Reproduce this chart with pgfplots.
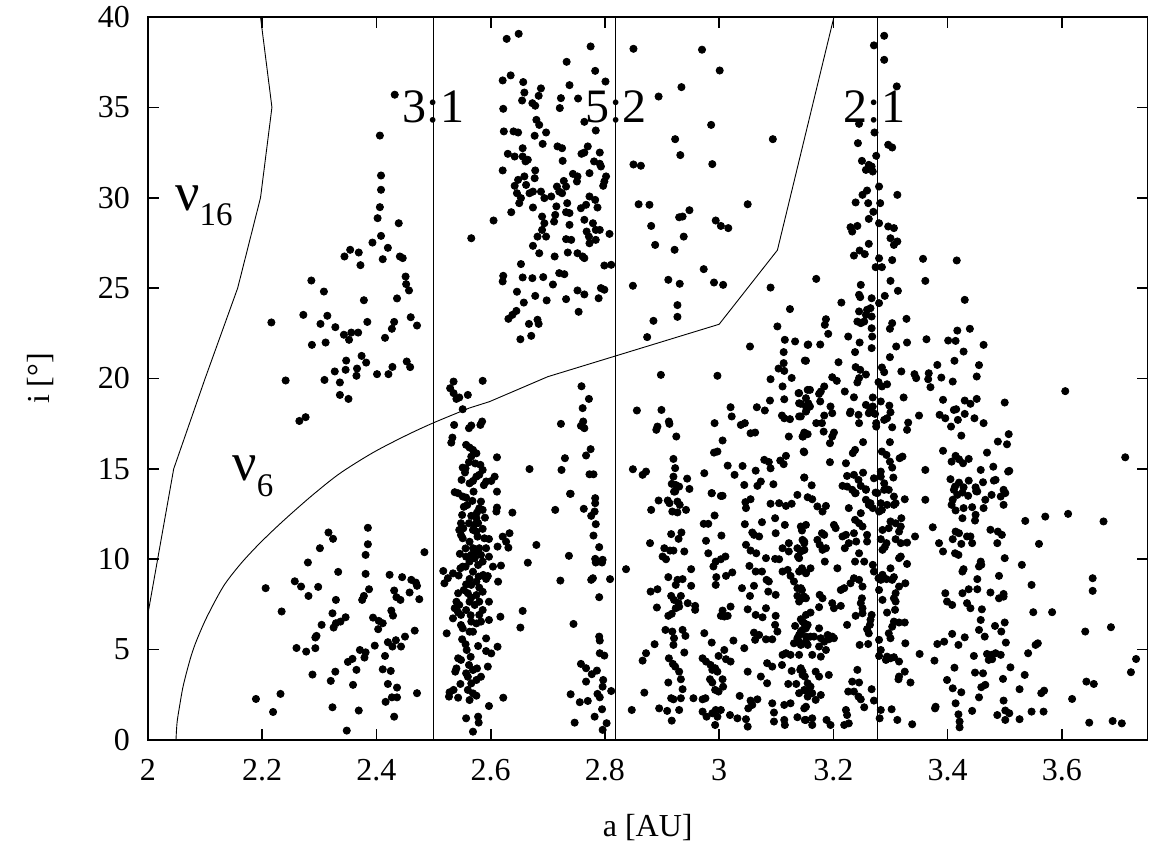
\documentclass[border=0pt]{standalone}
\usepackage{pgfplots}
\pgfplotsset{compat=1.18}
\usepackage{fontspec}
\setmainfont{Liberation Serif}
\begin{document}
\begin{tikzpicture}
\begin{axis}[name=ax, scale only axis, width=499.75pt, height=361.5pt,
 xmin=2, xmax=3.75, ymin=0, ymax=40,
 xtick={2,2.2,2.4,2.6,2.8,3,3.2,3.4,3.6}, ytick={0,5,10,15,20,25,30,35,40},
 minor tick num=0, tick align=inside, tick pos=both, major tick length=5.3pt,
 axis line style={line width=0.85pt}, tick style={black, line width=0.85pt},
 /pgf/number format/assume math mode=true,
 ticklabel style={font=\fontsize{16}{16}\selectfont},
 xticklabel style={yshift=-6pt}, yticklabel style={xshift=-5.5pt},
 xlabel={a [AU]}, ylabel={i [°]}, label style={font=\fontsize{16}{16}\selectfont},
 xlabel style={at={(axis description cs:0.5,-0.1217)}, anchor=center},
 ylabel style={at={(axis description cs:-0.108,0.5)}, anchor=center},
 clip=false]
% nu16 secular resonance
\addplot[black, line width=0.45pt, mark=none] coordinates {(2.0,7)(2.045,15)(2.1,20)(2.157,25)(2.197,30)(2.217,35)(2.197,40)};
% nu6 secular resonance
\addplot[black, line width=0.45pt, mark=none, smooth] coordinates {(2.049,0)(2.051,1.0)(2.056,2.0)(2.061,2.9)(2.068,3.8)(2.076,4.7)(2.085,5.5)(2.103,6.8)(2.132,8.5)(2.161,9.7)(2.19,10.7)(2.219,11.6)(2.25,12.5)(2.29,13.6)(2.336,14.75)(2.394,15.9)(2.452,16.85)(2.5,17.55)(2.563,18.37)};
\addplot[black, line width=0.45pt, mark=none] coordinates {(2.563,18.37)(2.598,18.72)(2.70,20.1)(2.819,21.25)(3.0,23.0)(3.102,27.1)(3.201,40)};
% mean motion resonances
\addplot[black, line width=0.45pt, mark=none] coordinates {(2.5,0)(2.5,40)};
\addplot[black, line width=0.45pt, mark=none] coordinates {(2.819,0)(2.819,40)};
\addplot[black, line width=0.45pt, mark=none] coordinates {(3.277,0)(3.277,40)};
% asteroids
\addplot[only marks, mark=*, mark size=1.8pt, black] coordinates {
(2.432,35.70)(2.406,33.44)(2.408,31.23)(2.408,30.44)(2.406,29.48)(2.402,28.87)(2.439,28.59)(2.408,27.89)(2.393,27.52)(2.354,27.12)(2.369,26.97)(2.420,27.23)(2.344,26.75)(2.411,26.60)(2.441,26.75)(2.446,26.66)(2.566,27.76)
(2.372,26.27)(2.286,25.42)(2.308,24.81)(2.451,25.64)(2.452,25.22)(2.457,24.87)(2.378,24.33)(2.436,24.43)(2.216,23.10)(2.272,23.52)(2.314,23.47)(2.302,23.02)(2.328,22.84)(2.384,23.13)(2.431,23.13)(2.460,23.39)(2.471,22.93)(2.427,22.75)(2.343,22.42)(2.356,22.54)(2.368,22.54)(2.352,22.14)(2.415,22.25)(2.287,21.86)(2.311,21.99)(2.374,21.25)(2.347,20.99)(2.382,20.88)(2.327,20.39)(2.346,20.48)(2.366,20.55)(2.365,20.15)(2.401,20.24)(2.421,20.24)(2.428,20.64)(2.453,20.94)(2.459,20.63)(2.241,19.89)(2.309,19.92)(2.336,19.78)(2.336,19.09)(2.351,18.87)(2.265,17.65)(2.276,17.86)
(2.385,11.74)(2.316,11.48)(2.324,11.13)(2.385,10.83)(2.301,10.61)(2.381,10.24)(2.484,10.39)(2.280,9.82)(2.333,9.30)(2.381,9.19)(2.423,9.14)(2.445,9.01)(2.461,8.86)(2.469,8.71)(2.471,8.53)(2.206,8.40)(2.257,8.78)(2.268,8.49)(2.298,8.47)(2.281,7.97)(2.387,8.34)(2.378,7.97)(2.375,7.75)(2.431,8.27)(2.435,7.90)(2.442,7.75)(2.458,8.16)(2.475,7.79)(2.329,7.75)(2.234,7.11)(2.323,7.01)(2.426,7.16)(2.429,6.88)(2.346,6.79)(2.337,6.55)(2.329,6.46)(2.325,6.22)(2.394,6.77)(2.404,6.59)(2.411,6.46)(2.304,6.37)(2.403,6.13)(2.467,6.05)(2.295,5.76)(2.293,5.67)(2.450,5.72)(2.420,5.41)(2.434,5.52)(2.443,5.17)(2.428,5.17)(2.397,5.22)(2.260,5.09)(2.277,4.89)(2.293,5.08)(2.371,4.98)(2.381,4.85)(2.379,4.56)(2.358,4.49)(2.350,4.32)(2.415,4.65)(2.365,3.88)(2.411,3.91)(2.425,3.82)(2.288,3.62)(2.328,3.78)(2.320,3.27)(2.359,3.05)(2.420,3.10)(2.436,2.90)(2.189,2.27)(2.232,2.55)(2.471,2.59)(2.427,2.36)(2.436,2.36)(2.416,2.11)(2.323,1.81)(2.369,1.63)(2.219,1.55)(2.431,1.29)(2.348,0.52)
(2.535,19.83)(2.586,19.87)(2.529,19.46)(2.535,19.19)(2.540,18.87)(2.545,18.95)(2.560,19.09)(2.551,18.30)(2.536,17.43)(2.562,17.25)(2.566,17.40)(2.585,17.62)(2.582,17.43)(2.533,16.73)(2.531,16.45)(2.557,16.33)(2.563,16.18)(2.569,16.05)(2.575,15.86)(2.611,15.64)(2.566,15.68)(2.562,15.37)(2.551,15.07)(2.556,15.03)(2.582,15.22)(2.586,14.94)(2.580,14.67)(2.575,14.57)(2.569,14.33)(2.563,14.20)(2.549,14.39)(2.607,14.57)(2.601,14.33)(2.592,14.30)(2.668,14.99)(2.537,13.71)(2.543,13.65)(2.551,13.47)(2.557,13.41)(2.568,13.23)(2.570,13.74)(2.611,13.74)(2.583,13.19)(2.580,12.82)(2.576,12.58)(2.575,12.27)(2.586,12.73)(2.611,12.86)(2.610,12.64)(2.638,12.58)(2.550,12.45)(2.548,11.99)(2.552,11.71)(2.545,11.62)(2.548,11.34)(2.551,11.16)(2.562,11.99)(2.569,11.62)(2.575,11.53)(2.577,11.25)(2.586,11.68)(2.589,11.16)(2.597,11.12)(2.621,11.25)(2.633,11.44)(2.627,10.97)(2.631,10.64)(2.612,10.70)(2.680,10.79)(2.563,10.97)(2.569,10.61)(2.575,10.42)(2.566,10.24)(2.572,10.05)(2.580,10.61)(2.583,10.24)(2.592,10.61)(2.597,10.14)(2.586,9.87)(2.578,9.68)(2.563,9.87)(2.557,10.14)(2.551,9.59)(2.604,9.59)(2.618,9.65)(2.665,9.81)(2.517,9.35)(2.534,9.22)(2.525,8.95)(2.519,8.67)(2.547,9.50)(2.556,9.59)(2.569,9.31)(2.579,9.04)(2.587,9.13)(2.595,9.07)(2.563,8.91)(2.557,8.61)(2.566,8.58)(2.575,8.76)(2.580,8.43)(2.592,8.91)(2.613,8.76)(2.543,8.12)(2.540,7.65)(2.545,7.47)(2.537,7.29)(2.543,7.06)(2.548,6.92)(2.534,6.73)(2.560,8.12)(2.566,7.88)(2.575,8.02)(2.580,7.65)(2.563,7.65)(2.572,7.47)(2.557,7.19)(2.586,7.19)(2.580,6.92)(2.566,6.55)(2.575,6.45)(2.583,6.55)(2.551,6.18)(2.548,6.36)(2.569,5.99)(2.563,5.99)(2.597,7.65)(2.597,6.64)(2.617,6.82)(2.656,7.14)(2.652,6.22)(2.523,5.90)(2.550,5.57)(2.592,5.62)(2.558,4.98)(2.592,4.92)(2.601,4.79)(2.612,5.16)(2.543,4.52)(2.548,4.43)(2.540,3.96)(2.538,3.78)(2.562,4.15)(2.569,3.87)(2.576,3.96)(2.557,3.69)(2.560,3.50)(2.595,4.06)(2.575,3.32)(2.566,3.13)(2.560,2.77)(2.569,2.58)(2.575,2.45)(2.528,2.64)(2.535,2.77)(2.527,2.40)(2.543,2.34)(2.563,2.21)(2.622,2.34)(2.597,1.88)(2.557,1.20)(2.578,1.29)(2.579,0.96)(2.569,0.46)
(2.553,12.9)(2.566,12.4)(2.559,13.0)(2.571,11.9)(2.556,10.6)(2.546,10.3)(2.578,12.0)(2.544,9.1)(2.553,8.3)(2.586,8.2)(2.556,5.3)(2.565,4.6)(2.578,5.2)(2.547,3.1)(2.583,3.5)(2.588,14.1)(2.555,14.8)(2.573,15.3)(2.59,12.3)(2.565,6.9)
(2.628,38.79)(2.649,39.07)(2.775,38.37)(2.850,38.24)(2.970,38.19)(2.733,37.52)(2.783,37.02)(3.001,37.04)(2.621,36.49)(2.635,36.77)(2.657,36.40)(2.801,36.43)(2.738,36.23)(2.659,35.82)(2.655,35.38)(2.688,36.05)(2.684,35.64)(2.673,35.23)(2.678,35.09)(2.723,35.51)(2.721,34.96)(2.753,35.49)(2.622,34.92)(2.894,35.60)(2.934,36.12)(2.764,34.20)(2.680,34.31)(2.685,34.03)(2.697,33.61)(2.784,33.72)(2.986,34.03)(2.623,33.67)(2.640,33.67)(2.648,33.61)(2.677,33.43)(2.691,32.98)(2.923,33.24)(3.094,33.24)(2.630,32.43)(2.642,32.28)(2.656,32.74)(2.656,32.28)(2.661,32.01)(2.665,32.10)(2.717,32.84)(2.725,32.74)(2.726,32.04)(2.770,32.84)(2.764,32.50)(2.759,32.43)(2.791,32.50)(2.781,32.01)(2.791,31.88)(2.793,31.73)(2.932,32.36)(2.850,31.84)(2.863,31.77)(2.988,31.86)(2.621,31.51)(2.678,31.51)(2.677,31.08)(2.773,31.36)(2.744,31.32)(2.752,31.18)(2.751,30.90)(2.802,31.18)(2.799,30.90)(2.797,30.66)(2.648,30.99)(2.642,30.66)(2.659,31.18)(2.662,30.71)(2.728,30.93)(2.732,30.62)(2.716,30.62)(2.720,30.34)(2.646,30.25)(2.653,29.98)(2.650,29.70)(2.668,30.25)(2.674,30.34)(2.688,30.34)(2.694,29.98)(2.706,30.07)(2.725,30.25)(2.773,30.07)(2.783,29.88)(2.767,29.61)(2.758,29.42)(2.674,29.46)(2.636,29.20)(2.605,28.74)(2.715,29.52)(2.734,29.70)(2.732,29.20)(2.738,29.15)(2.787,29.46)(2.859,29.64)(2.878,29.61)(2.948,29.31)(2.930,28.92)(2.936,28.96)(3.050,29.64)(2.690,28.96)(2.694,28.59)(2.690,28.22)(2.697,27.85)(2.682,27.85)(2.713,29.05)(2.711,28.68)(2.738,28.50)(2.764,28.78)(2.768,28.13)(2.772,27.85)(2.779,28.59)(2.784,28.22)(2.791,28.22)(2.784,27.67)(2.773,27.48)(2.808,28.00)(2.732,27.71)(2.741,27.67)(2.881,28.44)(2.938,27.85)(2.888,27.39)(2.922,27.12)(2.994,28.74)(3.003,28.44)(3.016,28.32)(2.674,27.34)(2.685,26.93)(2.712,26.75)(2.735,26.97)(2.752,26.93)(2.761,26.75)(2.764,26.66)
(2.653,26.33)(2.622,25.68)(2.621,25.37)(2.656,25.59)(2.673,25.55)(2.692,25.61)(2.720,25.83)(2.729,25.77)(2.709,25.20)(2.799,26.25)(2.811,26.29)(2.646,24.80)(2.678,24.57)(2.698,24.32)(2.752,24.87)(2.764,24.65)(2.793,25.00)(2.799,24.91)(2.789,24.44)(2.732,24.39)(2.658,24.20)(2.645,23.74)(2.638,23.52)(2.631,23.30)(2.754,23.69)(2.667,23.02)(2.682,23.25)(2.684,23.02)(2.652,22.17)(2.671,22.36)(2.849,25.13)(2.911,25.46)(2.931,25.24)(2.973,26.05)(2.991,25.31)(3.007,25.18)(2.927,24.06)(2.927,23.41)(2.885,23.19)(2.874,22.29)(3.090,25.03)(3.124,23.84)(3.102,22.88)(3.115,22.14)(3.133,22.05)(3.155,21.86)(3.054,21.77)(3.113,21.46)(3.113,20.85)(3.104,20.55)(3.114,20.42)(3.127,20.03)(3.150,20.99)(3.090,19.96)(3.111,19.56)(3.139,19.19)(3.114,18.85)(3.140,18.63)(3.155,19.37)(2.898,20.20)(2.997,20.15)(2.759,19.57)(2.772,18.87)(2.761,18.36)(2.762,17.62)(2.758,17.38)(2.764,17.25)(2.723,17.49)(2.775,16.09)(2.767,15.74)(2.730,15.59)(2.724,14.94)(2.773,14.70)(2.780,14.70)(2.740,13.62)(2.856,18.23)(2.899,18.26)(2.892,17.34)(2.890,17.16)(2.912,17.62)(2.913,17.49)(2.925,16.79)(2.992,17.53)(3.020,18.41)(3.022,17.90)(3.038,17.43)(3.045,17.53)(3.055,16.97)(3.063,17.01)(3.066,18.41)(3.080,18.23)(3.089,18.78)(3.110,17.95)(3.114,17.80)(3.124,17.75)(3.140,17.90)(3.152,18.91)(3.152,18.17)(3.122,16.79)(3.146,16.79)(3.149,17.01)(3.006,16.57)(2.991,15.90)(2.997,15.96)(2.920,15.55)(2.923,15.04)(2.920,14.57)(2.917,14.17)(2.924,14.11)(2.930,14.02)(2.921,13.74)(2.849,14.98)(2.866,14.67)(2.872,14.85)(2.944,14.46)(2.948,13.89)(2.974,14.76)(3.015,15.18)(3.041,15.16)(3.027,14.67)(3.064,14.90)(3.079,15.50)(3.087,15.38)(3.090,15.03)(3.107,15.46)(3.113,15.26)(3.117,15.72)(3.044,14.11)(3.067,14.06)(3.073,14.30)(3.095,14.15)(3.148,15.96)(3.149,14.52)(2.987,13.65)(3.003,13.50)
(3.289,38.96)(3.271,38.43)(3.289,37.63)(3.311,36.16)(3.245,34.09)(3.272,33.61)(3.243,33.02)(3.296,32.93)(3.303,32.78)(3.275,32.32)(3.250,32.04)(3.262,31.82)(3.267,31.73)(3.257,31.54)(3.269,31.45)(3.280,30.62)(3.259,30.40)(3.251,30.16)(3.239,29.74)(3.261,29.70)(3.282,29.70)(3.312,30.16)(3.270,29.22)(3.262,28.83)(3.280,28.59)(3.230,28.37)(3.242,28.44)(3.233,28.13)(3.296,28.41)(3.306,28.32)(3.300,27.76)(3.312,27.58)(3.306,27.39)(3.262,27.45)(3.246,27.08)(3.255,26.88)(3.236,26.80)(3.357,26.62)(3.416,26.53)(3.280,26.65)(3.303,26.55)
(3.170,25.51)(3.248,25.18)(3.300,25.40)(3.361,25.40)(3.274,26.16)(3.285,26.16)(3.313,24.85)(3.245,24.63)(3.247,24.50)(3.290,24.57)(3.214,24.20)(3.267,24.44)(3.280,24.17)(3.430,24.35)(3.265,23.89)(3.259,23.80)(3.245,23.71)(3.257,23.52)(3.267,23.43)(3.242,23.15)(3.248,23.06)(3.254,23.15)(3.267,22.78)(3.268,22.32)(3.187,23.28)(3.185,22.97)(3.303,23.06)(3.299,22.75)(3.328,23.30)(3.417,22.65)(3.439,22.75)(3.191,22.47)(3.226,22.32)(3.246,21.99)(3.267,21.68)(3.329,21.99)(3.363,22.17)(3.401,22.10)(3.414,22.08)(3.463,21.86)(3.156,21.88)(3.177,21.88)(3.310,21.77)(3.238,21.46)(3.428,21.49)(3.152,20.98)(3.209,20.90)(3.299,21.18)(3.412,20.98)(3.239,20.63)(3.247,20.48)(3.285,20.61)(3.289,20.35)(3.257,20.22)(3.319,20.39)(3.342,20.24)(3.345,20.02)(3.367,20.29)(3.366,19.96)(3.370,19.52)(3.382,20.75)(3.389,20.05)(3.409,19.83)(3.451,20.11)(3.455,20.74)(3.198,20.07)(3.206,19.87)(3.245,20.02)(3.242,19.78)(3.279,19.80)(3.285,19.56)(3.294,19.68)(3.184,19.56)(3.178,19.28)(3.175,19.15)(3.140,19.19)(3.159,19.37)(3.220,19.28)(3.236,18.96)(3.269,18.95)(3.283,18.73)(3.323,18.95)(3.392,18.82)(3.430,18.78)(3.440,18.60)(3.451,18.87)(3.500,18.67)(3.606,19.30)(3.143,18.60)(3.156,18.63)(3.159,18.45)(3.177,18.73)(3.195,18.45)(3.198,18.08)(3.257,18.54)(3.265,18.30)(3.262,18.08)(3.273,18.04)(3.269,18.45)(3.298,18.50)(3.300,18.13)(3.294,17.80)(3.229,18.08)(3.230,18.17)(3.244,17.99)(3.245,17.53)(3.152,18.45)(3.153,18.26)(3.143,17.90)(3.184,17.95)(3.350,17.95)(3.411,18.26)(3.415,18.30)(3.396,17.80)(3.418,17.71)(3.430,18.04)(3.447,17.80)(3.386,17.99)(3.406,17.34)(3.463,17.53)(3.170,17.53)(3.180,17.53)(3.289,17.71)(3.275,17.53)(3.275,17.34)(3.303,17.30)(3.331,17.56)(3.329,17.16)(3.183,17.06)(3.147,16.79)(3.155,16.92)(3.201,17.01)(3.198,16.79)(3.424,16.84)(3.507,16.92)(3.504,16.36)(3.488,16.51)(3.194,16.42)(3.252,16.48)(3.299,16.48)(3.149,15.92)(3.238,16.05)(3.234,15.87)(3.285,15.96)(3.293,15.77)(3.321,15.68)(3.316,15.59)(3.392,16.00)(3.414,15.72)(3.420,15.53)(3.427,15.31)(3.407,15.40)(3.437,15.55)(3.469,15.90)(3.711,15.64)(3.194,15.37)(3.222,15.31)(3.299,15.40)(3.303,15.07)(3.149,14.52)(3.162,14.09)(3.224,14.61)(3.236,14.67)(3.244,14.39)(3.252,14.79)(3.271,14.48)(3.283,14.85)(3.283,14.57)(3.305,14.52)(3.216,14.06)(3.224,14.02)(3.248,14.06)(3.257,13.87)(3.289,14.20)(3.294,13.87)(3.361,14.94)(3.405,14.43)(3.413,14.02)(3.420,14.24)(3.428,13.98)(3.437,14.35)(3.449,13.98)(3.450,13.76)(3.458,14.94)(3.462,14.26)(3.480,15.12)(3.481,14.35)(3.484,14.39)(3.506,14.85)(3.508,14.89)(3.498,13.84)(3.274,13.69)(3.238,13.65)
(2.713,12.73)(2.739,13.62)(2.763,12.79)(2.776,12.40)(2.782,12.64)(2.783,13.38)(2.783,13.10)(2.784,11.94)(2.780,11.31)(2.737,10.19)(2.790,10.67)(2.783,10.02)(2.784,9.82)(2.796,9.97)(2.795,9.82)(2.722,8.82)(2.776,8.86)(2.779,8.95)(2.809,8.90)(2.790,7.90)(2.745,6.42)(2.790,5.72)(2.791,5.50)(2.791,4.80)(2.799,4.67)(2.758,4.21)(2.767,3.97)(2.786,3.84)(2.777,3.64)(2.767,3.23)(2.797,3.32)(2.796,2.95)(2.811,2.71)(2.787,2.55)(2.791,2.36)(2.740,2.53)(2.756,2.09)(2.770,2.16)(2.795,1.70)(2.782,1.29)(2.803,0.93)(2.747,0.96)(2.796,0.56)
(2.837,9.45)(2.847,1.66)(2.881,12.73)(2.894,13.25)(2.910,13.25)(2.913,13.10)(2.927,13.19)(2.931,13.01)(2.918,12.64)(2.927,12.59)(2.942,12.73)(2.923,13.75)(2.987,13.66)(3.006,13.51)(2.992,12.42)(3.046,13.16)(3.055,13.32)(3.047,12.83)(3.090,13.07)(3.105,13.10)(3.117,12.95)(3.127,13.07)(3.137,13.56)(2.879,10.89)(2.916,11.39)(2.929,11.13)(2.934,11.48)(2.973,11.96)(2.981,11.96)(2.977,11.02)(3.004,11.31)(2.904,10.61)(2.914,10.48)(2.920,10.48)(2.901,10.15)(2.907,10.00)(2.939,10.43)(2.981,10.33)(2.994,9.87)(3.003,10.00)(3.011,10.15)(2.990,9.60)(2.951,9.45)(3.045,11.94)(3.058,11.48)(3.061,11.35)(3.070,11.26)(3.075,12.05)(3.098,12.27)(3.115,11.90)(3.099,11.44)(3.145,11.59)(3.149,10.98)(3.137,10.61)(3.149,10.52)(3.122,10.89)(3.111,10.61)(3.122,10.43)(3.047,10.80)(3.055,10.48)(3.065,10.33)(3.082,10.06)(3.098,10.02)(3.105,10.00)(3.138,10.15)(3.053,9.63)(2.911,9.01)(2.927,8.86)(2.936,8.90)(2.924,8.58)(2.951,8.53)(2.880,8.21)(2.892,8.34)(2.916,7.97)(2.933,7.97)(2.921,7.75)(2.929,7.57)(2.924,7.29)(2.917,6.98)(2.911,6.87)(2.930,7.38)(2.945,7.57)(2.958,7.42)(2.958,7.20)(2.891,7.33)(2.995,9.01)(3.012,9.08)(3.023,9.27)(2.994,8.58)(3.040,8.40)(3.054,7.97)(3.061,8.53)(3.064,9.32)(3.075,9.32)(3.083,8.86)(3.087,8.77)(3.111,9.32)(3.120,9.41)(3.125,9.08)(3.131,8.77)(3.137,8.40)(3.145,8.30)(3.137,7.97)(3.146,7.84)(3.152,9.23)(3.099,8.03)(3.086,8.21)(3.006,7.16)(3.003,6.87)(3.009,6.83)(3.020,7.38)(3.015,6.87)(3.050,7.23)(3.064,6.92)(3.076,6.79)(3.082,7.29)(3.099,6.87)(3.098,6.37)(3.102,6.00)(3.061,5.94)(3.063,5.54)(3.070,5.81)(3.082,5.57)(3.093,5.57)(3.044,5.08)(3.133,6.31)(3.146,6.55)(3.152,6.27)(3.143,6.00)(3.137,5.63)(3.131,5.35)(3.140,5.44)(3.152,5.72)(2.906,6.09)(2.918,6.00)(2.936,6.09)(2.941,5.76)(2.921,5.63)(2.920,5.26)(2.887,5.30)(2.974,5.91)(2.987,5.39)(3.025,5.50)(2.939,4.84)(2.872,4.80)(2.866,4.39)(2.912,4.52)(2.919,4.21)(2.923,4.06)(2.971,4.52)(2.977,4.34)(2.985,4.15)(2.993,3.97)(2.997,3.78)(2.988,3.88)(2.999,4.65)(3.009,4.98)(3.012,4.47)(3.020,4.34)(2.930,3.78)(2.933,3.36)(2.936,2.81)(2.984,3.36)(2.988,3.18)(3.006,3.36)(3.007,2.95)(2.993,2.77)(2.999,2.68)(2.911,3.18)(2.869,2.62)(2.916,2.31)(2.920,2.25)(2.933,2.31)(2.895,1.75)(2.909,1.61)(2.930,1.66)(2.917,1.07)(2.955,2.31)(2.971,2.25)(2.976,2.31)(2.971,1.57)(2.978,1.29)(2.988,1.48)(2.994,1.66)(3.003,1.66)(2.997,1.29)(2.993,0.83)(3.019,1.38)(3.032,1.20)(3.047,1.15)(3.050,0.74)(3.036,2.44)(3.055,2.18)(3.067,2.25)(3.058,1.94)(3.051,1.75)(3.050,3.78)(3.073,3.51)(3.084,3.14)(3.084,4.25)(3.093,4.06)(3.110,4.15)(3.111,4.71)(3.117,4.80)(3.125,4.71)(3.140,4.71)(3.127,3.82)(3.142,3.88)(3.146,3.60)(3.121,3.10)(3.135,3.10)(3.140,2.59)(3.152,2.73)(3.093,2.03)(3.114,1.94)(3.125,2.03)(3.152,1.84)(3.096,1.52)(3.096,1.02)(3.114,1.11)(3.115,0.83)(3.137,1.26)(3.150,1.11)
(3.155,13.43)(3.163,13.32)(3.172,12.92)(3.181,12.64)(3.187,12.95)(3.143,11.81)(3.152,11.90)(3.146,11.07)(3.149,10.89)(3.143,10.43)(3.149,10.52)(3.172,11.07)(3.176,10.80)(3.181,10.52)(3.187,10.61)(3.184,11.35)(3.180,11.44)(3.201,11.90)(3.204,11.72)(3.227,12.83)(3.248,12.55)(3.238,12.18)(3.245,11.99)(3.251,11.81)(3.216,11.26)(3.222,11.35)(3.227,10.89)(3.236,11.44)(3.240,10.98)(3.259,11.35)(3.259,10.98)(3.220,10.61)(3.245,10.33)(3.233,13.84)(3.257,13.84)(3.239,13.66)(3.257,13.29)(3.265,13.10)(3.269,12.83)(3.262,13.01)(3.277,13.66)(3.185,9.87)(3.160,9.50)(3.152,9.23)(3.140,10.06)(3.140,9.32)(3.145,9.50)(3.207,9.50)(3.238,9.87)(3.254,9.87)(3.269,9.69)(3.271,9.32)(3.236,8.95)(3.245,8.86)(3.219,8.40)(3.213,8.30)(3.230,8.67)(3.251,8.49)(3.143,8.40)(3.149,7.93)(3.152,7.84)(3.140,7.66)(3.176,8.03)(3.181,7.84)(3.198,7.57)(3.201,7.29)(3.213,7.42)(3.175,7.35)(3.250,7.84)(3.248,7.57)(3.251,7.29)(3.160,7.05)(3.152,6.92)(3.143,6.68)(3.149,6.46)(3.155,6.37)(3.146,6.09)(3.140,5.81)(3.152,6.18)(3.160,5.72)(3.152,5.44)(3.143,5.26)(3.155,5.26)(3.175,6.18)(3.166,5.72)(3.178,5.63)(3.190,5.81)(3.192,5.57)(3.184,5.44)(3.175,5.17)(3.187,4.98)(3.178,4.61)(3.163,4.71)(3.198,5.72)(3.201,5.63)(3.239,6.87)(3.251,7.01)(3.267,6.92)(3.265,6.65)(3.264,6.37)(3.259,6.13)(3.262,5.90)(3.224,6.37)(3.246,5.26)(3.261,5.31)(3.143,3.97)(3.146,3.78)(3.150,3.51)(3.155,3.14)(3.149,2.77)(3.160,2.95)(3.163,2.59)(3.155,2.40)(3.169,2.22)(3.149,1.75)(3.152,1.11)(3.163,1.20)(3.163,0.83)(3.169,3.78)(3.175,3.51)(3.192,3.60)(3.178,2.49)(3.188,1.11)(3.195,0.83)(3.219,0.83)(3.227,0.92)(3.222,1.66)(3.224,1.38)(3.242,3.88)(3.233,3.23)(3.245,3.18)(3.226,2.68)(3.236,2.68)(3.244,2.40)(3.248,2.25)(3.254,1.81)(3.267,2.81)(3.271,2.18)
(3.283,13.10)(3.294,13.01)(3.306,13.01)(3.309,13.10)(3.306,13.47)(3.325,13.32)(3.297,13.84)(3.289,13.84)(3.285,12.73)(3.280,12.64)(3.300,12.09)(3.309,11.99)(3.318,11.81)(3.315,11.53)(3.297,11.72)(3.286,11.62)(3.283,11.11)(3.293,10.89)(3.290,10.67)(3.286,10.52)(3.319,12.27)(3.343,11.26)(3.309,11.11)(3.318,10.89)(3.329,10.92)(3.315,10.06)(3.318,10.15)(3.329,9.74)(3.300,9.50)(3.286,9.14)(3.283,8.86)(3.293,8.90)(3.303,8.86)(3.306,9.01)(3.279,8.95)(3.326,8.67)(3.315,8.49)(3.309,8.12)(3.306,7.84)(3.309,7.66)(3.308,7.20)(3.294,7.05)(3.286,7.75)(3.280,8.30)(3.306,6.55)(3.315,6.50)(3.325,6.50)(3.303,6.27)(3.297,5.90)(3.300,5.63)(3.280,5.54)(3.283,4.98)(3.280,4.65)(3.292,4.43)(3.294,4.61)(3.306,4.58)(3.315,4.34)(3.300,4.52)(3.326,5.35)(3.325,3.78)(3.315,3.51)(3.314,3.36)(3.335,3.18)(3.283,1.66)(3.281,1.20)(3.302,1.70)(3.312,1.11)(3.338,0.87)(3.351,4.76)(3.361,13.29)(3.374,11.77)(3.385,10.89)(3.392,10.43)(3.407,13.01)(3.414,12.70)(3.409,13.29)(3.417,13.56)(3.426,12.27)(3.428,12.83)(3.436,13.51)(3.443,12.88)(3.449,12.46)(3.448,12.14)(3.434,11.26)(3.440,11.26)(3.443,10.89)(3.414,11.53)(3.420,11.44)(3.409,11.11)(3.424,10.85)(3.413,10.33)(3.419,10.24)(3.411,13.84)(3.426,13.69)(3.452,13.75)(3.466,13.29)(3.463,12.83)(3.477,13.56)(3.493,13.47)(3.498,13.01)(3.501,13.66)(3.475,11.63)(3.488,11.53)(3.495,11.35)(3.487,10.89)(3.458,9.87)(3.455,9.60)(3.459,9.69)(3.426,9.32)(3.428,9.45)(3.452,8.90)(3.490,9.08)(3.500,10.06)(3.396,8.12)(3.399,7.66)(3.408,7.47)(3.426,8.12)(3.437,8.34)(3.452,8.34)(3.475,8.16)(3.434,7.57)(3.440,7.29)(3.460,7.23)(3.490,7.84)(3.498,7.93)(3.498,8.08)(3.408,5.87)(3.382,5.31)(3.394,5.44)(3.419,5.26)(3.430,5.68)(3.458,6.64)(3.455,6.09)(3.465,5.72)(3.483,6.31)(3.494,6.00)(3.500,6.50)(3.502,5.39)(3.377,4.39)(3.446,4.65)(3.469,4.76)(3.472,4.43)(3.478,4.47)(3.484,4.80)(3.493,4.71)(3.477,4.71)(3.412,4.00)(3.448,3.73)(3.462,3.69)(3.466,3.05)(3.459,2.92)(3.455,2.36)(3.510,4.02)(3.497,3.38)(3.399,3.32)(3.409,2.86)(3.424,2.64)(3.379,1.84)(3.378,1.75)(3.414,2.03)(3.419,1.42)(3.421,1.02)(3.421,0.70)(3.443,1.61)(3.487,1.38)(3.501,1.63)(3.508,1.48)(3.501,1.11)(3.526,1.15)(3.498,2.18)(3.526,2.81)(3.535,3.60)(3.541,4.80)(3.554,5.26)(3.558,5.35)(3.550,7.07)(3.547,8.58)(3.530,9.69)(3.560,10.85)(3.536,12.12)(3.571,12.36)(3.611,12.51)(3.673,12.09)(3.583,7.07)(3.564,2.59)(3.569,2.73)(3.547,1.57)(3.568,1.57)(3.618,2.27)(3.643,3.23)(3.656,3.10)(3.641,6.00)(3.654,8.95)(3.654,8.25)(3.686,6.24)(3.721,3.75)(3.730,4.48)(3.648,0.96)(3.689,1.05)(3.705,0.92)
};
% labels
\node[font=\fontsize{24}{24}\selectfont, inner sep=0pt] at (axis cs:2.5,35) {3:1};
\node[font=\fontsize{24}{24}\selectfont, inner sep=0pt] at (axis cs:2.819,35) {5:2};
\node[font=\fontsize{24}{24}\selectfont, inner sep=0pt] at (axis cs:3.272,35) {2:1};
\node[anchor=base west, inner sep=0pt] at (axis cs:2.047,29.3) {\fontsize{27}{27}\selectfont ν\raisebox{-7.5pt}{\fontsize{16.5}{16.5}\selectfont 16}};
\node[anchor=base west, inner sep=0pt] at (axis cs:2.147,14.33) {\fontsize{27}{27}\selectfont ν\raisebox{-8pt}{\fontsize{16.5}{16.5}\selectfont 6}};
\end{axis}
\pgfresetboundingbox
\path ([xshift=-74pt,yshift=-55pt]ax.south west) rectangle ([xshift=2.75pt,yshift=8.5pt]ax.north east);
\end{tikzpicture}
\end{document}
